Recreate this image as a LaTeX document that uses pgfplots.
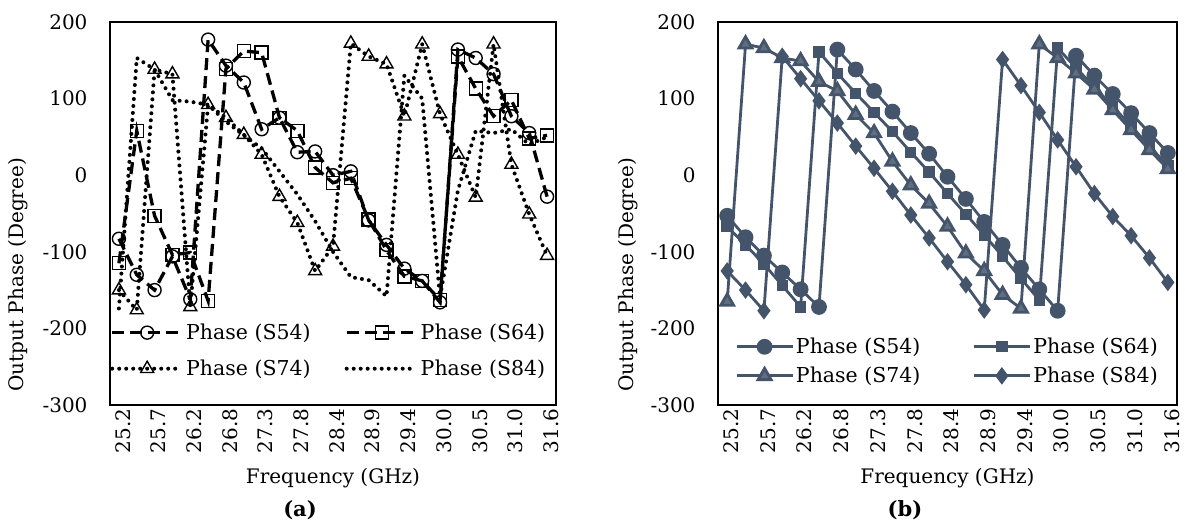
\documentclass[border=0pt]{standalone}
\usepackage{fontspec}
\setmainfont{DejaVu Serif}
\usepackage{pgfplots}
\pgfplotsset{compat=1.18}
\usepackage{pgfplotstable}
\definecolor{slate}{HTML}{44546A}

\pgfplotstableread{
k s54 s64 s74 s84
0 -83 -115 -150 -174
1 -130 58 -176 153
2 -150 -53 138 138
3 -106 -104 132 98
4 -162 -101 -172 96
5 177 -164 92 92
6 143 139 75 70
7 121 162 53 52
8 60 160 27 35
9 75 75 -28 5
10 30 58 -62 -25
11 31 10 -125 -60
12 0 -10 -93 -100
13 5 -4 172 -133
14 -59 -58 155 -137
15 -91 -98 145 -158
16 -122 -132 77 130
17 -138 -138 171 100
18 -166 -163 80 -160
19 164 155 27 -20
20 153 113 -29 58
21 132 77 171 55
22 77 98 14 60
23 55 48 -51 40
24 -28 52 -105 50
}\dataA

\pgfplotstableread{
k s54 s64 s74 s84
0 -53 -67 -165 -125
1 -81 -91 171 -150
2 -105 -116 166 -177
3 -127 -144 153 155
4 -149 -172 149 126
5 -172 161 122 97
6 164 133 110 68
7 138 107 79 38
8 110 82 55 9
9 83 57 18 -21
10 55 30 -13 -52
11 28 4 -37 -82
12 -2 -24 -67 -113
13 -31 -51 -102 -143
14 -61 -78 -125 -176
15 -91 -106 -156 151
16 -121 -135 -174 117
17 -149 -163 171 82
18 -177 166 153 46
19 156 140 133 11
20 130 115 112 -24
21 106 90 85 -54
22 81 64 59 -79
23 55 38 33 -108
24 29 12 8 -140
}\dataB

\pgfplotsset{
  myaxis/.style={
    scale only axis, height=383pt,
    xmin=-0.5, xmax=24.5, ymin=-300, ymax=200,
    xtick={0,2,...,24},
    xticklabels={25.2,25.7,26.2,26.8,27.3,27.8,28.4,28.9,29.4,30.0,30.5,31.0,31.6},
    ytick={-300,-200,-100,0,100,200},
    yticklabels={-300,-200,-100,0,100,200},
    major tick length=0pt,
    axis line style={line width=1.5pt, black},
    tick label style={font=\fontsize{20}{20}\selectfont},
    xticklabel style={rotate=90, anchor=east, yshift=-4pt},
    yticklabel style={anchor=east, xshift=-19pt},
    label style={font=\fontsize{20}{20}\selectfont},
    xlabel={Frequency (GHz)},
    ylabel={Output Phase (Degree)},
    xlabel style={at={(axis description cs:0.5,-0.19)}, anchor=center},
    legend cell align=left,
    legend columns=2,
  },
}

\begin{document}
\begin{tikzpicture}
\useasboundingbox (-110pt,-124pt) rectangle (1075pt,405pt);
% ---------- (a) ----------
\begin{axis}[myaxis, width=446pt, at={(0pt,0pt)},
  ylabel style={at={(axis description cs:-0.206,0.34)}, anchor=center},
  legend style={at={(axis description cs:0,0.217)}, anchor=north west,
    draw=none, fill=none, inner sep=0pt, row sep=15pt,
    font=\fontsize{20.5}{20.5}\selectfont,
    /tikz/every even column/.append style={column sep=32pt}},
  legend image code/.code={\draw[mark repeat=2,mark phase=2,#1] plot coordinates {(0pt,0pt) (35pt,0pt) (70pt,0pt)};},
]
\addplot[black, line width=3.3pt, dash pattern=on 12pt off 6pt, mark=o, mark size=6.5pt,
  mark options={solid, line width=1.4pt, fill=white}] table[x=k, y=s54] {\dataA};
\addlegendentry{Phase (S54)}
\addplot[black, line width=3.3pt, dash pattern=on 12pt off 6pt, mark=square, mark size=6.5pt,
  mark options={solid, line width=1.4pt, fill=white}] table[x=k, y=s64] {\dataA};
\addlegendentry{Phase (S64)}
\addplot[black, line width=4pt, line cap=round, dash pattern=on 0pt off 7pt, mark=triangle, mark size=7.5pt,
  mark options={solid, line width=1.4pt, fill=white}] table[x=k, y=s74] {\dataA};
\addlegendentry{Phase (S74)}
\addplot[black, line width=4pt, line cap=round, dash pattern=on 0pt off 7pt] table[x=k, y=s84] {\dataA};
\addlegendentry{Phase (S84)}
\end{axis}
\node[font=\bfseries\fontsize{21}{21}\selectfont] at (190pt,-105pt) {(a)};
% ---------- (b) ----------
\begin{axis}[myaxis, width=459pt, at={(608pt,0pt)},
  ylabel style={at={(axis description cs:-0.196,0.34)}, anchor=center},
  legend style={at={(axis description cs:0.037,0.18)}, anchor=north west,
    draw=none, fill=none, inner sep=0pt, row sep=8pt,
    font=\fontsize{20.5}{20.5}\selectfont,
    /tikz/every even column/.append style={column sep=50pt}},
  legend image code/.code={\draw[mark repeat=2,mark phase=2,#1] plot coordinates {(0pt,0pt) (28pt,0pt) (56pt,0pt)};},
]
\addplot[slate, line width=2.8pt, mark=*, mark size=6.5pt, mark options={fill=slate}] table[x=k, y=s54] {\dataB};
\addlegendentry{Phase (S54)}
\addplot[slate, line width=2.8pt, mark=square*, mark size=4.3pt, mark options={fill=slate}] table[x=k, y=s64] {\dataB};
\addlegendentry{Phase (S64)}
\addplot[slate, line width=2.8pt, mark=triangle*, mark size=7.5pt, mark options={fill=slate!85!white}] table[x=k, y=s74] {\dataB};
\addlegendentry{Phase (S74)}
\addplot[slate, line width=2.8pt, mark=diamond*, mark size=6.5pt, mark options={fill=slate}] table[x=k, y=s84] {\dataB};
\addlegendentry{Phase (S84)}
\end{axis}
\node[font=\bfseries\fontsize{21}{21}\selectfont] at (795pt,-105pt) {(b)};
\end{tikzpicture}
\end{document}
